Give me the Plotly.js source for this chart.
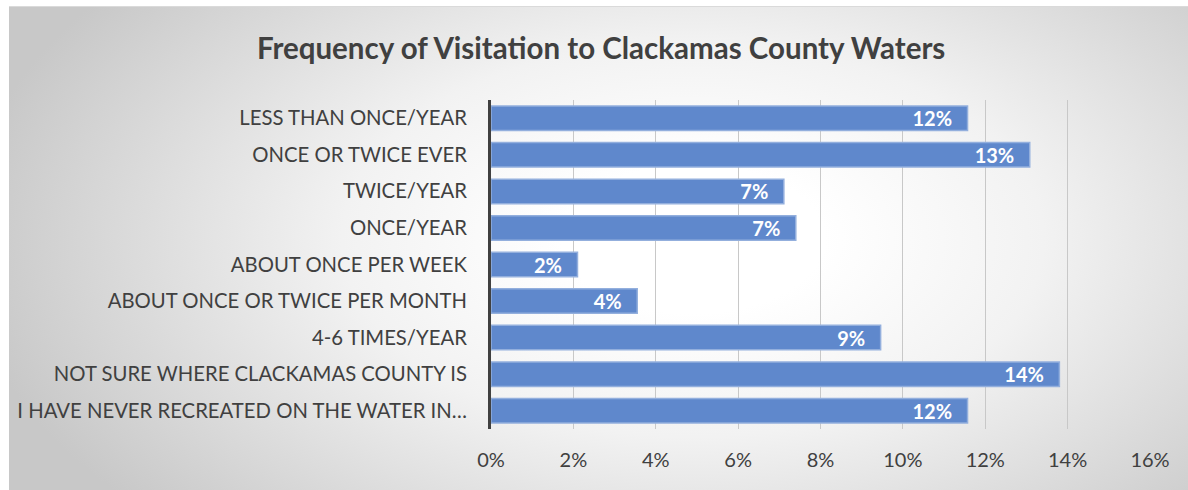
<!DOCTYPE html>
<html>
<head>
<meta charset="utf-8">
<script src="https://cdn.plot.ly/plotly-3.0.1.min.js"></script>
<style>
  html, body { margin: 0; padding: 0; background: #ffffff; }
  #wrap { position: relative; width: 1188px; height: 490px; overflow: hidden; }
  #bg { position: absolute; left: 9px; top: 6px; width: 1179px; height: 484px;
        border-top: 1px solid #dadada;
        background: radial-gradient(ellipse 62% 85% at 58% 48%, #ffffff 18%, #f2f2f2 48%, #c8c8c8 100%); }
  #chart { position: absolute; left: 0; top: 0; width: 1188px; height: 490px; }
</style>
</head>
<body>
<div id="wrap">
  <div id="bg"></div>
  <div id="chart"></div>
</div>
<script>
const categories = [
  "LESS THAN ONCE/YEAR",
  "ONCE OR TWICE EVER",
  "TWICE/YEAR",
  "ONCE/YEAR",
  "ABOUT ONCE PER WEEK",
  "ABOUT ONCE OR TWICE PER MONTH",
  "4-6 TIMES/YEAR",
  "NOT SURE WHERE CLACKAMAS COUNTY IS",
  "I HAVE NEVER RECREATED ON THE WATER IN…"
];
const values = [11.57, 13.08, 7.11, 7.40, 2.10, 3.55, 9.46, 13.80, 11.57];
const tickValues = [0, 2, 4, 6, 8, 10, 12, 14, 16];
const tickLabels = ["0%", "2%", "4%", "6%", "8%", "10%", "12%", "14%", "16%"];
const chartTitle = "Frequency of Visitation to Clackamas County Waters";

const labels = values.map(v => Math.round(v) + "%\u2002\u2009");

const trace = {
  type: "bar",
  orientation: "h",
  x: values,
  y: categories,
  text: labels,
  textposition: "inside",
  insidetextanchor: "end",
  textangle: 0,
  textfont: { family: "Lato, 'Open Sans', sans-serif", size: 20, color: "#ffffff", weight: "bold" },
  marker: { color: "#5f88cc", line: { color: "#93afdd", width: 1.5 } },
  hoverinfo: "none",
  cliponaxis: false
};

const layout = {
  width: 1188,
  height: 490,
  paper_bgcolor: "rgba(0,0,0,0)",
  plot_bgcolor: "rgba(0,0,0,0)",
  margin: { l: 491, r: 38, t: 100, b: 61 },
  bargap: 0.33,
  showlegend: false,
  uniformtext: { mode: "show", minsize: 20 },
  title: {
    text: chartTitle,
    font: { family: "Lato, 'Open Sans', sans-serif", size: 29.5, color: "#404040", weight: "bold" },
    x: 0.506, xanchor: "center", xref: "container",
    y: 1 - 49 / 490, yanchor: "middle", yref: "container"
  },
  xaxis: {
    range: [0, 16],
    tickvals: tickValues,
    ticktext: tickLabels,
    showgrid: true,
    gridcolor: "#c8c8c8",
    gridwidth: 1,
    zeroline: false,
    showline: false,
    ticks: "",
    tickfont: { family: "Lato, 'Open Sans', sans-serif", size: 20, color: "#404040" },
    ticklabelstandoff: 17,
    fixedrange: true
  },
  yaxis: {
    type: "category",
    autorange: "reversed",
    showline: true,
    linecolor: "#404040",
    linewidth: 3,
    showgrid: false,
    ticks: "",
    ticklabelstandoff: 17,
    tickfont: { family: "Lato, 'Open Sans', sans-serif", size: 20.3, color: "#404040" },
    fixedrange: true
  }
};

Plotly.newPlot("chart", [trace], layout, { displayModeBar: false, staticPlot: true });
</script>
</body>
</html>
